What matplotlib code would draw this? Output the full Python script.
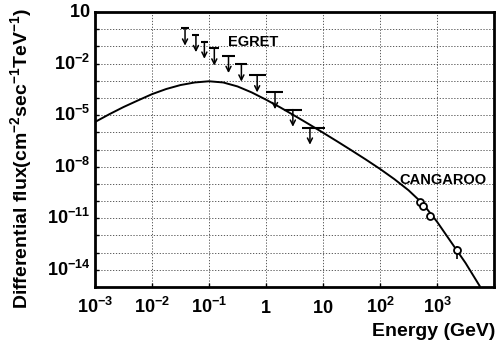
import numpy as np
import matplotlib
matplotlib.use("Agg")
import matplotlib.pyplot as plt

# model curve, as log10 values
# (energy in GeV, flux in cm^-2 s^-1 TeV^-1)
curve_loge = [-3.0, -2.75, -2.5, -2.25, -2.0, -1.75, -1.5, -1.25, -1.0, -0.75,
              -0.5, -0.25, 0.0, 0.25, 0.5, 0.75, 1.0, 1.25, 1.5, 1.75, 2.0,
              2.25, 2.5, 2.75, 3.0, 3.25, 3.5, 3.75]
curve_logf = [-5.40, -4.95, -4.53, -4.15, -3.78, -3.48, -3.25, -3.10, -3.03,
              -3.10, -3.33, -3.68, -4.10, -4.55, -5.03, -5.52, -6.02, -6.53,
              -7.05, -7.58, -8.13, -8.72, -9.37, -10.15, -11.2, -12.4, -13.6,
              -14.95]

# EGRET upper limits
egret_e = [0.038, 0.059, 0.083, 0.124, 0.22, 0.37, 0.70, 1.44, 2.96, 5.9]
egret_lo = [0.032, 0.051, 0.072, 0.10, 0.17, 0.29, 0.50, 1.0, 2.1, 4.2]
egret_hi = [0.045, 0.068, 0.095, 0.15, 0.29, 0.47, 0.99, 2.0, 4.2, 10.8]
egret_ul = [1.1, 0.46, 0.19, 0.076, 0.028, 8.9e-3, 2.1e-3, 2.2e-4, 2.1e-5, 1.9e-6]

# CANGAROO points
cang_e = [504, 568, 754, 2220]
cang_f = [8.7e-11, 4.9e-11, 1.4e-11, 1.4e-13]
cang_flo = [5.0e-11, 3.0e-11, 8.0e-12, 4.0e-14]
cang_fhi = [1.4e-10, 7.5e-11, 2.2e-11, 2.5e-13]

xticks = [1e-3, 1e-2, 1e-1, 1, 10, 1e2, 1e3, 1e4]
xtick_labels = [r"$10^{-3}$", r"$10^{-2}$", r"$10^{-1}$", r"$1$", r"$10$",
                r"$10^{2}$", r"$10^{3}$", ""]
yexp = list(range(1, -16, -1))
ytick_labels = {1: r"$10$", -2: r"$10^{-2}$", -5: r"$10^{-5}$", -8: r"$10^{-8}$",
                -11: r"$10^{-11}$", -14: r"$10^{-14}$"}

plt.rcParams["font.family"] = ["Liberation Sans", "DejaVu Sans"]
plt.rcParams["font.weight"] = "bold"
plt.rcParams["mathtext.fontset"] = "custom"
plt.rcParams["mathtext.rm"] = "Liberation Sans:bold"
plt.rcParams["mathtext.it"] = "Liberation Sans:bold"
plt.rcParams["mathtext.bf"] = "Liberation Sans:bold"

fig = plt.figure(figsize=(4.97, 3.47), dpi=100)
ax = fig.add_axes([0.1911, 0.1729, 0.8029, 0.7925])
ax.set_xscale("log")
ax.set_yscale("log")
ax.set_xlim(1e-3, 1e4)
ax.set_ylim(1e-15, 1e1)

ax.plot(10.0 ** np.array(curve_loge), 10.0 ** np.array(curve_logf),
        color="k", lw=1.4)

# EGRET bars and arrows
ax.hlines(egret_ul, egret_lo, egret_hi, colors="k", lw=1.5)
for e, ul in zip(egret_e, egret_ul):
    ax.annotate("", xy=(e, ul / 10), xytext=(e, ul),
                arrowprops=dict(arrowstyle="->", lw=1.1, color="k",
                                shrinkA=0, shrinkB=0, mutation_scale=9))

cf = np.array(cang_f)
yerr = [cf - np.array(cang_flo), np.array(cang_fhi) - cf]
ce = np.array(cang_e)
ax.errorbar(cang_e, cang_f, yerr=yerr, xerr=[ce * 0.1, ce * 0.1], fmt="o",
            ms=5, mfc="white", mec="k", mew=1.3, ecolor="k", elinewidth=1.2,
            capsize=0)

ax.text(0.59, 0.18, "EGRET", fontsize=10.5, fontweight="bold",
        ha="center", va="center")
ax.text(1250, 1.6e-9, "CANGAROO", fontsize=10.5, fontweight="bold",
        ha="center", va="center")

ax.minorticks_off()
ax.set_xticks(xticks, xtick_labels)
ax.set_yticks([10.0 ** k for k in yexp], [ytick_labels.get(k, "") for k in yexp])
ax.tick_params(axis="both", direction="in", length=3, width=1, labelsize=13)
ax.tick_params(axis="x", pad=19)
for lbl in ax.get_xticklabels():
    lbl.set_verticalalignment("baseline")
for lbl in ax.get_yticklabels():
    lbl.set_verticalalignment("center")

ax.grid(True, which="major", ls=(0, (1.5, 2)), lw=0.6, color="0.25")
for s in ax.spines.values():
    s.set_linewidth(2)

ax.set_ylabel(r"Differential flux(cm$^{-2}$sec$^{-1}$TeV$^{-1}$)",
              fontsize=14, fontweight="bold")
ax.yaxis.set_label_coords(-0.153, 0.469)
ax.set_xlabel("Energy (GeV)", fontsize=14, fontweight="bold", loc="right")
ax.xaxis.set_label_coords(1.0025, -0.131)

fig.savefig("out.png", dpi=100)
